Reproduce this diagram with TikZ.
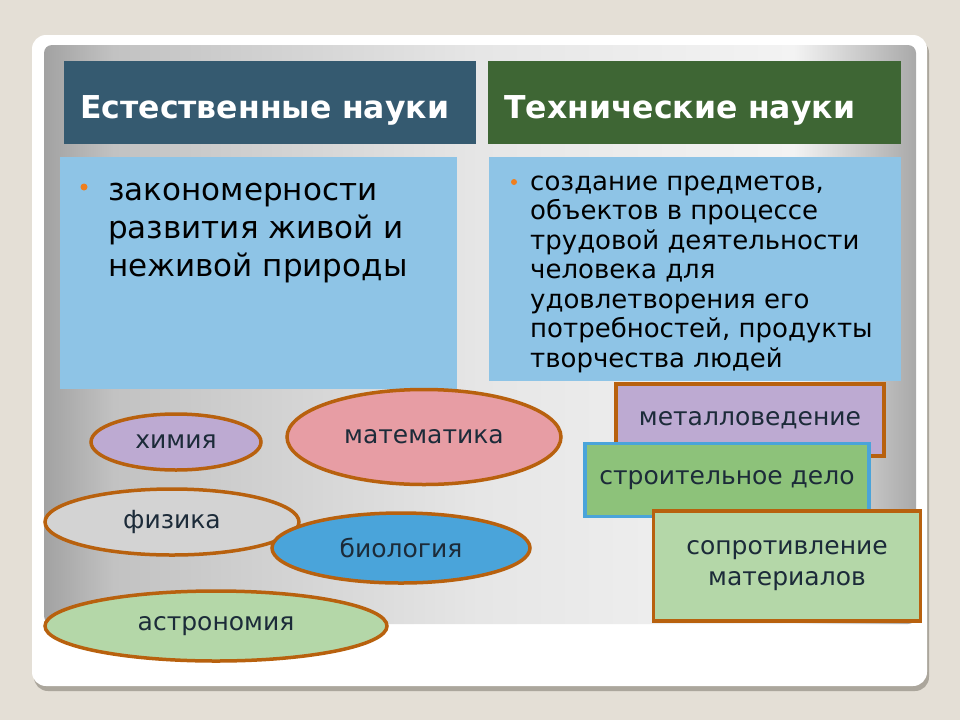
\documentclass[tikz,border=0pt]{standalone}
\usepackage{fontspec}
\setmainfont{DejaVu Sans}
\usetikzlibrary{shapes.geometric}

\definecolor{bgbeige}{HTML}{E4DFD6}
\definecolor{cardshadow}{HTML}{ABA69C}
\definecolor{natblue}{HTML}{355A70}
\definecolor{techgreen}{HTML}{3E6634}
\definecolor{boxblue}{HTML}{8EC4E6}
\definecolor{rim}{HTML}{B8610E}
\definecolor{lilac}{HTML}{BDAAD2}
\definecolor{rose}{HTML}{E79DA4}
\definecolor{ashgray}{HTML}{D3D3D3}
\definecolor{bioblue}{HTML}{4AA4DA}
\definecolor{palegreen}{HTML}{B4D7A8}
\definecolor{midgreen}{HTML}{8DC27A}
\definecolor{inkblue}{HTML}{1C2B39}
\definecolor{dotorange}{HTML}{F07F1E}
\definecolor{panelA}{HTML}{A2A2A2}
\definecolor{panelB}{HTML}{C2C2C2}
\definecolor{panelC}{HTML}{E6E6E6}
\definecolor{panelD}{HTML}{F3F3F3}
\definecolor{panelE}{HTML}{A9A9A9}

\pgfdeclarehorizontalshading{panelshade}{100bp}{color(0bp)=(panelA); color(25bp)=(panelA); color(29bp)=(panelB); color(50bp)=(panelC); color(68bp)=(panelD); color(75bp)=(panelE); color(100bp)=(panelE)}

\newcommand{\headfont}{\fontsize{31.5}{36}\selectfont\bfseries}
\newcommand{\lblfont}{\fontsize{25}{31}\selectfont}

\begin{document}
\begin{tikzpicture}[x=1pt,y=-1pt,
  head/.style={anchor=north west, inner xsep=16pt, minimum height=83pt,
    text height=31pt, text depth=0pt, align=left, text=white, font=\headfont},
  bodybox/.style={anchor=north west, fill=boxblue, inner sep=0pt},
  bodytext/.style={anchor=north west, inner sep=0pt, align=left, text=black},
  dot/.style={circle, fill=dotorange, inner sep=0pt},
  blob/.style={ellipse, draw=rim, line width=3.5pt, inner sep=0pt,
    font=\lblfont, text=inkblue},
  tag/.style={rectangle, draw=rim, line width=3.5pt, inner sep=0pt,
    font=\lblfont, text=inkblue, align=center}]

% backdrop and slide card
\fill[bgbeige] (0,0) rectangle (960,720);
\useasboundingbox (0,0) rectangle (960,720);
\fill[cardshadow, rounded corners=14pt] (34,39) rectangle (929,691);
\fill[white, rounded corners=14pt] (32,35) rectangle (927,686);
\shade[shading=panelshade, rounded corners=8pt] (44,45) rectangle (916,624);

% headers
\node[head, fill=natblue, text width=380pt] (natural) at (64,61) {Естественные науки};
\node[head, fill=techgreen, text width=381pt] (technical) at (488,61) {Технические науки};

% natural sciences text
\node[bodybox, minimum width=397pt, minimum height=232pt] (natbox) at (60,157) {};
\node[dot, minimum size=7pt] (natdot) at (84,187) {};
\node[bodytext, font=\fontsize{31}{38}\selectfont] (nattext) at (108,173.4)
  {\strut закономерности\\развития живой и\\неживой природы};

% technical sciences text
\node[bodybox, minimum width=412pt, minimum height=224pt] (techbox) at (489,157) {};
\node[dot, minimum size=6pt] (techdot) at (514,182) {};
\node[bodytext, font=\fontsize{26}{29.5}\selectfont] (techtext) at (530,169.4)
  {\strut создание предметов,\\объектов в процессе\\трудовой деятельности\\человека для\\удовлетворения его\\потребностей, продукты\\творчества людей};

% natural sciences
\node[blob, fill=lilac, minimum width=170pt, minimum height=56pt] (chem) at (176,442) {химия};
\node[blob, fill=rose, minimum width=274pt, minimum height=95pt] (math) at (424,437) {математика};
\node[blob, fill=ashgray, minimum width=254pt, minimum height=66pt] (phys) at (172,522) {физика};
\node[blob, fill=bioblue, minimum width=258pt, minimum height=70pt] (bio) at (401,548) {биология};
\node[blob, fill=palegreen, minimum width=342pt, minimum height=70pt] (astro) at (216,626) {астрономия};

% technical sciences
\node[tag, fill=lilac, minimum width=268pt, minimum height=72pt] (metal) at (750,420) {металловедение};
\node[tag, draw=bioblue, fill=midgreen, minimum width=284pt, minimum height=73pt] (build) at (727,480) {строительное дело};
\node[tag, fill=palegreen, minimum width=267pt, minimum height=110pt] (resist) at (787,566) {сопротивление\\материалов};
\end{tikzpicture}
\end{document}
